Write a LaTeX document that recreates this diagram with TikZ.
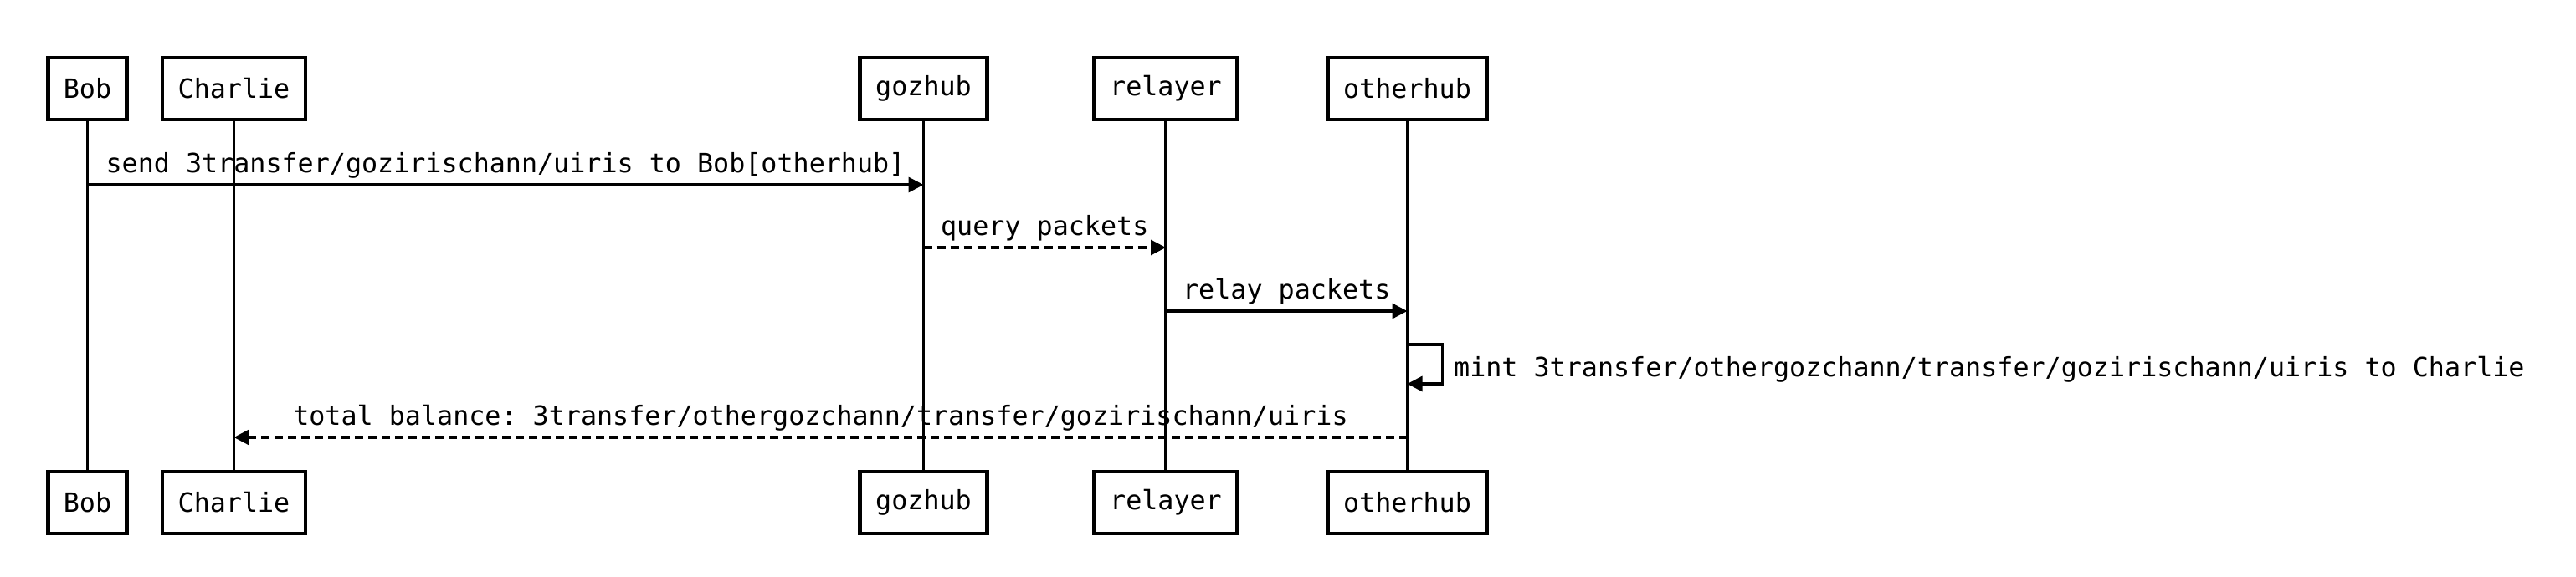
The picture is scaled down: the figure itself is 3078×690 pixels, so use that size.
\documentclass[tikz,border=0pt]{standalone}
\usepackage{fontspec}
\setmonofont{DejaVu Sans Mono}
\usetikzlibrary{arrows.meta}
\newcommand{\seqfont}{\ttfamily\fontsize{15.86pt}{19pt}\selectfont}

\begin{document}
\begin{tikzpicture}[>={Triangle[length=9pt,width=9pt]},x=0.5pt,y=-0.5pt,
  actor/.style={draw,line width=2.4pt,minimum height=37pt,inner xsep=9.35pt,inner ysep=0pt,font=\seqfont},
  life/.style={line width=1.75pt},
  msg/.style={line width=1.65pt,->},
  reply/.style={msg,dash pattern=on 5pt off 3pt},
  msglabel/.style={anchor=base,inner sep=0pt,yshift=7.5pt,font=\seqfont}]
\useasboundingbox (0,0) rectangle (3078,690);
\node[actor] (bobT) at (104.5,106) {Bob};
\node[actor] (charlieT) at (279.5,106) {Charlie};
\node[actor] (gozhubT) at (1103.5,106) {gozhub};
\node[actor] (relayerT) at (1393,106) {relayer};
\node[actor] (otherhubT) at (1681.5,106) {otherhub};
\node[actor] (bobB) at (104.5,601) {Bob};
\node[actor] (charlieB) at (279.5,601) {Charlie};
\node[actor] (gozhubB) at (1103.5,601) {gozhub};
\node[actor] (relayerB) at (1393,601) {relayer};
\node[actor] (otherhubB) at (1681.5,601) {otherhub};
\draw [life] (bobT) -- (bobB);
\draw [life] (charlieT) -- (charlieB);
\draw [life] (gozhubT) -- (gozhubB);
\draw [life] (relayerT) -- (relayerB);
\draw [life] (otherhubT) -- (otherhubB);
\draw [msg] (bobT |- 0,221) -- node[msglabel] {send 3transfer/gozirischann/uiris to Bob[otherhub]} (gozhubT |- 0,221);
\draw [reply] (gozhubT |- 0,296) -- node[msglabel] {query packets} (relayerT |- 0,296);
\draw [msg] (relayerT |- 0,372) -- node[msglabel] {relay packets} (otherhubT |- 0,372);
\draw [msg] (otherhubT |- 0,412) -- ++(42,0) -- node[anchor=base west,inner sep=0pt,xshift=6pt,yshift=-7.25pt,font=\seqfont] {mint 3transfer/othergozchann/transfer/gozirischann/uiris to Charlie} ++(0,47) -- (otherhubT |- 0,459);
\draw [reply] (otherhubT |- 0,523) -- node[msglabel] {total balance: 3transfer/othergozchann/transfer/gozirischann/uiris} (charlieT |- 0,523);
\end{tikzpicture}
\end{document}
